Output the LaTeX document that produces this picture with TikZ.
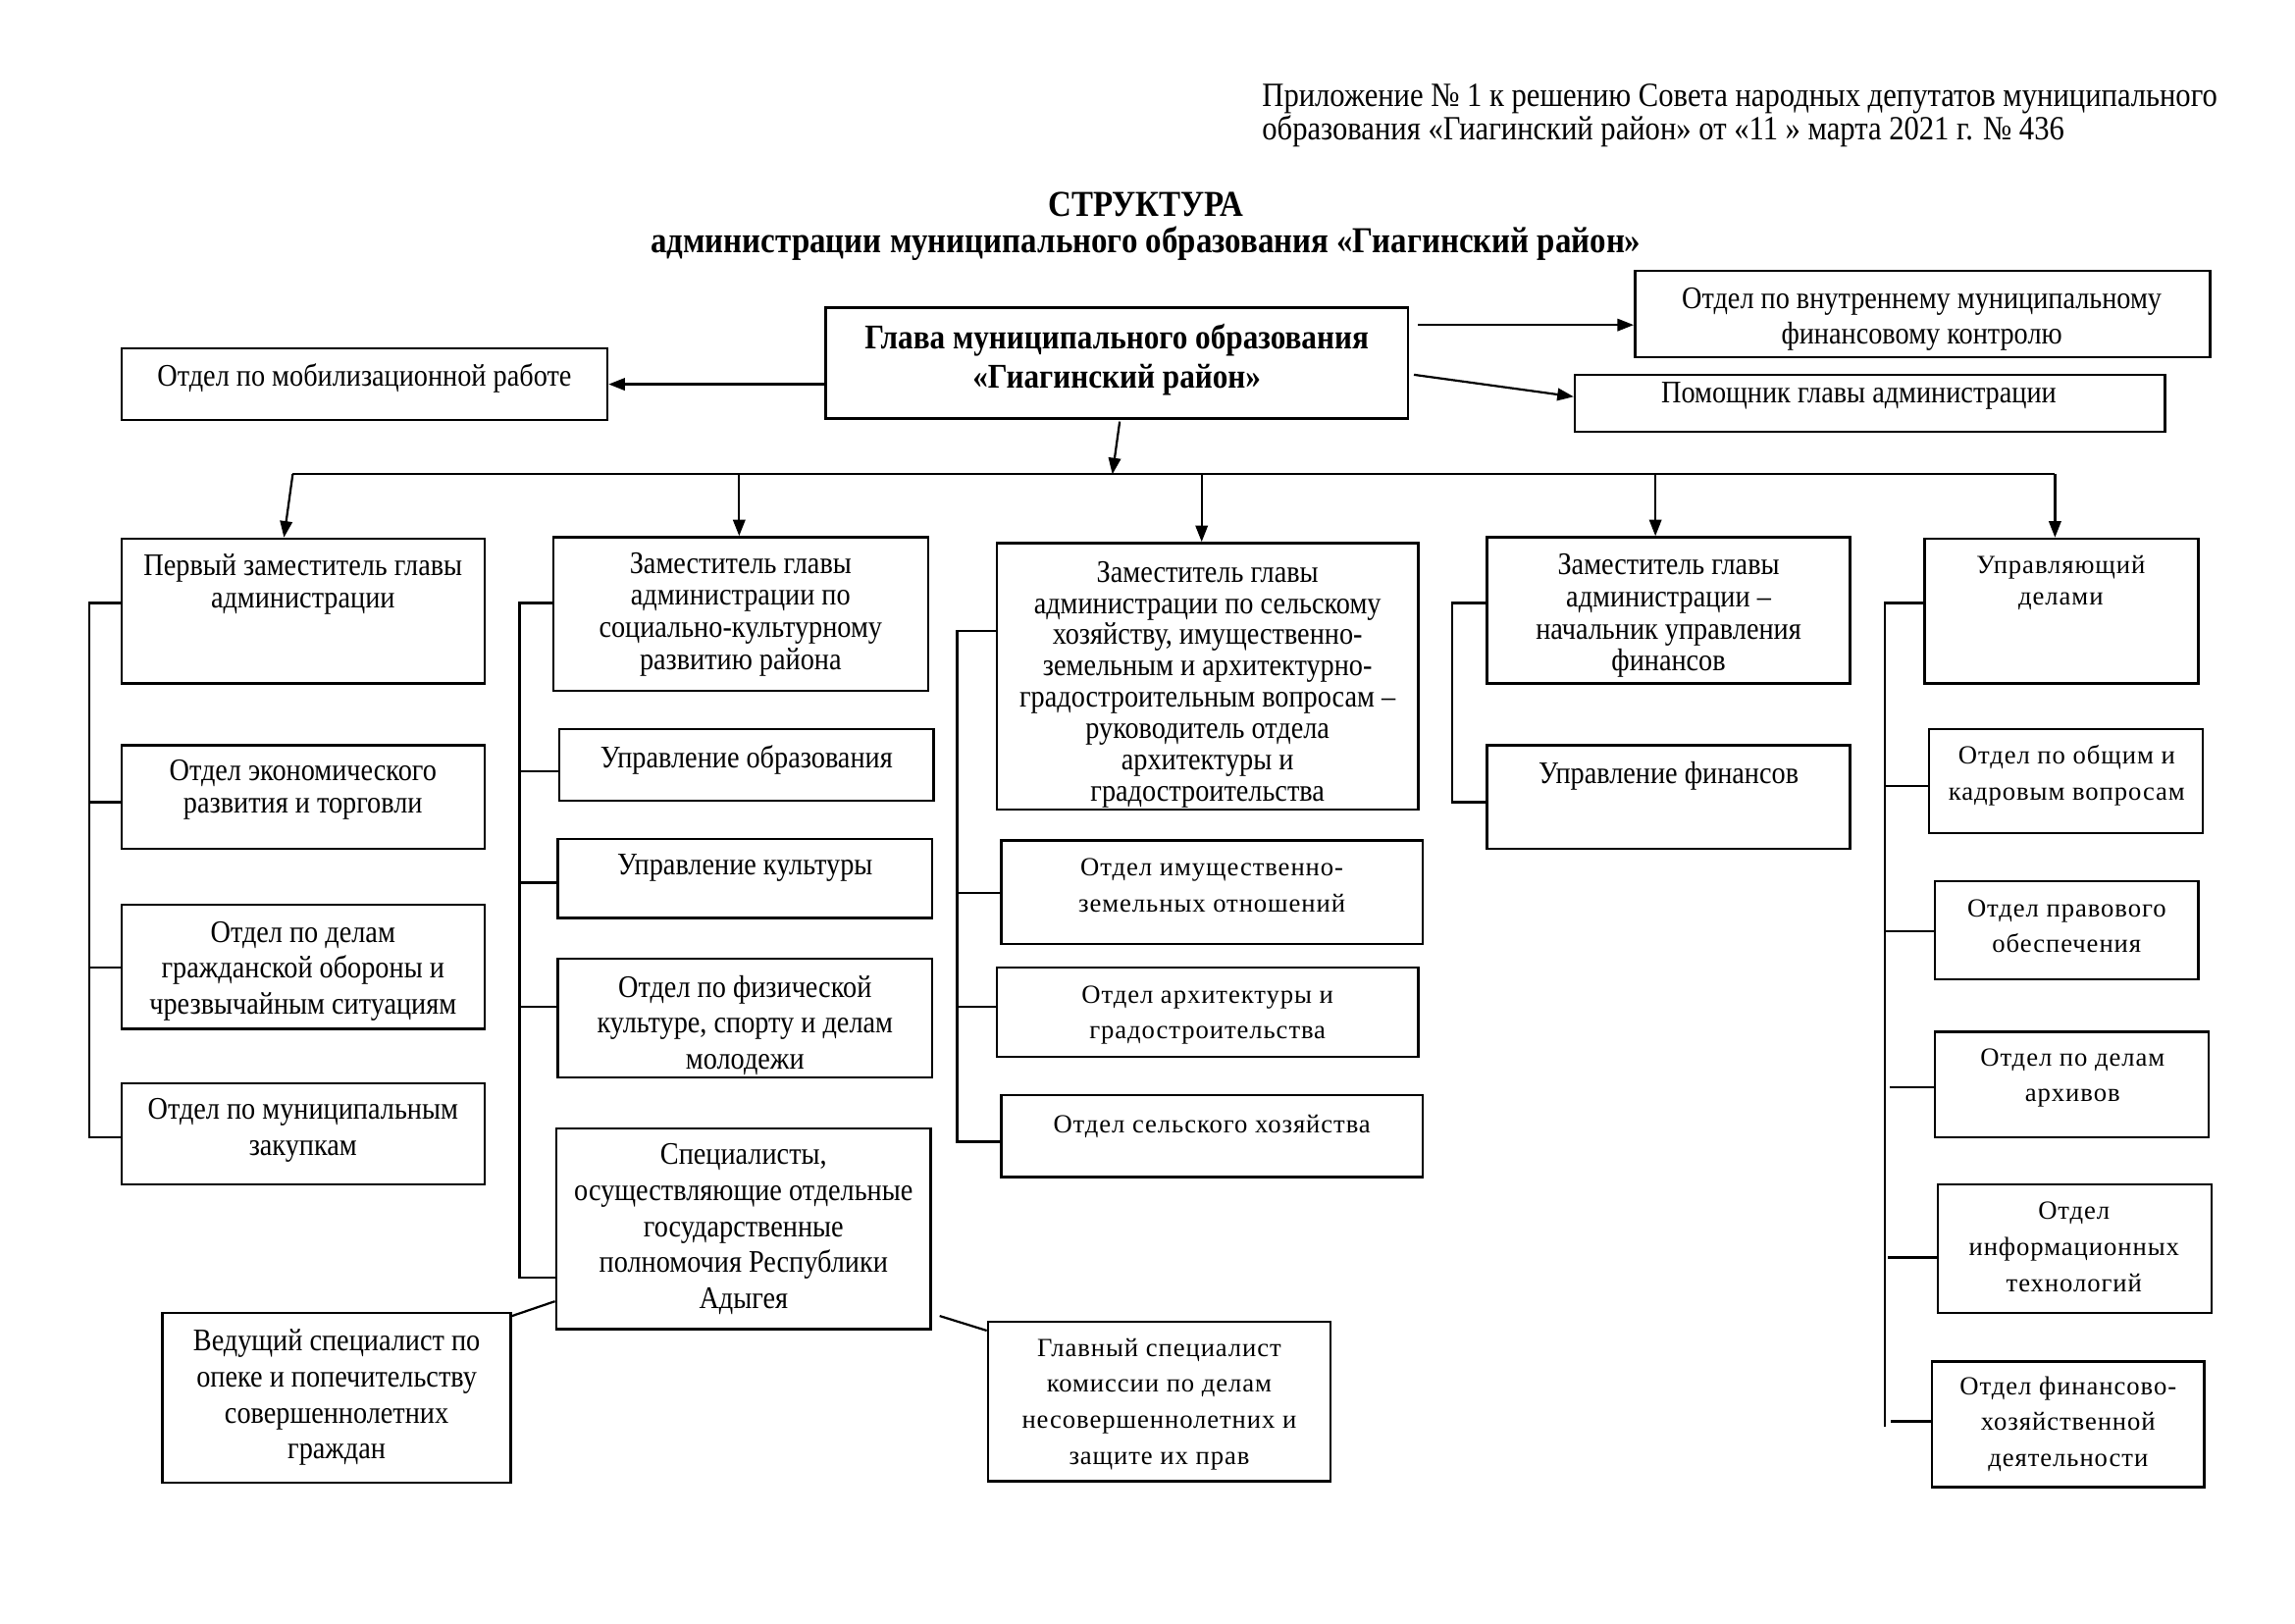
\documentclass[tikz,border=0pt]{standalone}
\usepackage{fontspec}
\setmainfont{Liberation Serif}
\newfontfamily\cond[FakeStretch=0.885,Ligatures=TeX]{Liberation Serif}
\newfontfamily\wide[LetterSpace=3.5,Ligatures=TeX]{Liberation Serif}
\usetikzlibrary{arrows.meta,fit}
\begin{document}
\begin{tikzpicture}[x=0.537pt,y=-0.537pt,
  box/.style={draw, line width=0.9pt, inner sep=0pt},
  ln/.style={line width=0.8pt},
  arr/.style={line width=0.8pt, -{Triangle[length=6pt,width=4.5pt]}},
  tx/.style={align=center, inner sep=0pt, anchor=north, font=\cond\fontsize{11.5}{11.8}\selectfont},
  txl/.style={align=center, inner sep=0pt, anchor=north, font=\cond\fontsize{11.5}{13.2}\selectfont},
  txw/.style={align=center, inner sep=0pt, anchor=north, font=\wide\fontsize{9.6}{13.2}\selectfont},
  txwt/.style={align=center, inner sep=0pt, anchor=north, font=\wide\fontsize{9.6}{11.8}\selectfont}]
\useasboundingbox (0,0) rectangle (1568,1109);
\fill[white] (0,0) rectangle (1568,1109);

% header
\node[align=left, inner sep=0pt, anchor=north west, font=\cond\fontsize{12.45}{12.4}\selectfont] (hdr) at (862,57)
 {Приложение № 1 к решению Совета народных депутатов муниципального\\образования «Гиагинский район» от «11 » марта 2021 г. № 436};
\node[align=center, inner sep=0pt, anchor=north, font=\cond\bfseries\fontsize{13.4}{13.4}\selectfont] (title) at (783,131)
 {СТРУКТУРА\\администрации муниципального образования «Гиагинский район»};

% top boxes
\node[box, fit={(564,210) (962,286)}] (glava) {};
\node[align=center, inner sep=0pt, anchor=north, font=\cond\bfseries\fontsize{12.7}{14.5}\selectfont] (glava-t) at (763,221)
 {Глава муниципального образования\\«Гиагинский район»};
\node[box, fit={(83,238) (415,287)}] (mob) {};
\node[tx] (mob-t) at (249,248) {Отдел по мобилизационной работе};
\node[box, fit={(1117,185) (1510,244)}] (kontrol) {};
\node[txl] (kontrol-t) at (1313,196) {Отдел по внутреннему муниципальному\\финансовому контролю};
\node[box, fit={(1076,256) (1479,295)}] (pom) {};
\node[tx] (pom-t) at (1270,261) {Помощник главы администрации};

\draw[arr] (glava.west |- mob.east) -- (mob.east);
\coordinate (k1) at (969,222);
\draw[arr] (k1) -- (kontrol.west |- k1);
\coordinate (p1) at (966,256);
\draw[arr] (p1) -- (pom.west |- 0,271);
\coordinate (bus) at (760,324);
\draw[arr] (765,288) -- (bus);

% deputies
\node[box, fit={(83,368) (331,467)}] (d1) {};
\node[tx] (d1-t) at (207,378) {Первый заместитель главы\\администрации};
\node[box, fit={(378,367) (634,472)}] (d2) {};
\node[tx] (d2-t) at (506,377) {Заместитель главы\\администрации по\\социально-культурному\\развитию района};
\node[box, fit={(681,371) (969,553)}] (d3) {};
\node[align=center, inner sep=0pt, anchor=north, font=\cond\fontsize{11.5}{11.5}\selectfont] (d3-t) at (825,383) {Заместитель главы\\администрации по сельскому\\хозяйству, имущественно-\\земельным и архитектурно-\\градостроительным вопросам –\\руководитель отдела\\архитектуры и\\градостроительства};
\node[box, fit={(1016,367) (1264,467)}] (d4) {};
\node[tx] (d4-t) at (1140,378) {Заместитель главы\\администрации –\\начальник управления\\финансов};
\node[box, fit={(1315,368) (1502,467)}] (d5) {};
\node[txwt] (d5-t) at (1408,379) {Управляющий\\делами};

% bus and arrows
\coordinate (b1) at (200,324);
\coordinate (b5) at (1404,324);
\draw[ln] (b1) -- (b5);
\draw[arr] (b1) -- (d1.north -| 194,0);
\draw[arr] (b1 -| 505,0) -- (d2.north -| 505,0);
\draw[arr] (b1 -| 821,0) -- (d3.north -| 821,0);
\draw[arr] (b1 -| 1131,0) -- (d4.north -| 1131,0);
\draw[arr] (b5) -- (d5.north -| b5);

% column 1
\node[box, fit={(83,509) (331,580)}] (econ) {};
\node[tx] (econ-t) at (207,519) {Отдел экономического\\развития и торговли};
\node[box, fit={(83,618) (331,703)}] (go) {};
\node[txl] (go-t) at (207,629) {Отдел по делам\\гражданской обороны и\\чрезвычайным ситуациям};
\node[box, fit={(83,740) (331,809)}] (zak) {};
\node[txl] (zak-t) at (207,750) {Отдел по муниципальным\\закупкам};
\draw[ln] (d1.west |- 0,412) -- (61,412) -- (61,777) -- (zak.west |- 0,777);
\draw[ln] (61,548) -- (econ.west |- 0,548);
\draw[ln] (61,661) -- (go.west |- 0,661);

% column 2
\node[box, fit={(382,498) (638,547)}] (obr) {};
\node[tx] (obr-t) at (510,509) {Управление образования};
\node[box, fit={(381,573) (637,627)}] (kul) {};
\node[tx] (kul-t) at (509,583) {Управление культуры};
\node[box, fit={(381,655) (637,736)}] (fiz) {};
\node[txl] (fiz-t) at (509,666) {Отдел по физической\\культуре, спорту и делам\\молодежи};
\node[box, fit={(380,771) (636,908)}] (spec) {};
\node[txl] (spec-t) at (508,781) {Специалисты,\\осуществляющие отдельные\\государственные\\полномочия Республики\\Адыгея};
\node[box, fit={(111,897) (349,1013)}] (ved) {};
\node[txl] (ved-t) at (230,908) {Ведущий специалист по\\опеке и попечительству\\совершеннолетних\\граждан};
\node[box, fit={(675,903) (909,1012)}] (glsp) {};
\node[txw] (glsp-t) at (792,914) {Главный специалист\\комиссии по делам\\несовершеннолетних и\\защите их прав};
\draw[ln] (d2.west |- 0,412) -- (355,412) -- (355,873) -- (spec.west |- 0,873);
\draw[ln] (355,527) -- (obr.west |- 0,527);
\draw[ln] (355,603) -- (kul.west |- 0,603);
\draw[ln] (355,688) -- (fiz.west |- 0,688);
\draw[ln] (spec.west |- 0,889) -- (ved.north east |- 0,899);
\draw[ln] (642,899) -- (glsp.west |- 0,909);

% column 3
\node[box, fit={(684,574) (972,645)}] (im) {};
\node[txw] (im-t) at (828,586) {Отдел имущественно-\\земельных отношений};
\node[box, fit={(681,661) (969,722)}] (ar) {};
\node[txw] (ar-t) at (825,673) {Отдел архитектуры и\\градостроительства};
\node[box, fit={(684,748) (972,804)}] (se) {};
\node[txw] (se-t) at (828,761) {Отдел сельского хозяйства};
\draw[ln] (d3.west |- 0,431) -- (654,431) -- (654,780) -- (se.west |- 0,780);
\draw[ln] (654,610) -- (im.west |- 0,610);
\draw[ln] (654,688) -- (ar.west |- 0,688);

% column 4
\node[box, fit={(1016,509) (1264,580)}] (uf) {};
\node[tx] (uf-t) at (1140,520) {Управление финансов};
\draw[ln] (d4.west |- 0,412) -- (992,412) -- (992,548) -- (uf.west |- 0,548);

% column 5
\node[box, fit={(1318,498) (1505,569)}] (ob) {};
\node[txw] (ob-t) at (1412,509) {Отдел по общим и\\кадровым вопросам};
\node[box, fit={(1322,602) (1502,669)}] (pr) {};
\node[txw] (pr-t) at (1412,614) {Отдел правового\\обеспечения};
\node[box, fit={(1322,705) (1509,777)}] (arh) {};
\node[txw] (arh-t) at (1416,716) {Отдел по делам\\архивов};
\node[box, fit={(1324,809) (1511,897)}] (it) {};
\node[txw] (it-t) at (1417,821) {Отдел\\информационных\\технологий};
\node[box, fit={(1320,930) (1506,1016)}] (fh) {};
\node[txw] (fh-t) at (1413,940) {Отдел финансово-\\хозяйственной\\деятельности};
\draw[ln] (d5.west |- 0,412) -- (1288,412) -- (1288,975);
\draw[ln] (1288,537) -- (ob.west |- 0,537);
\draw[ln] (1288,636) -- (pr.west |- 0,636);
\draw[ln] (1291,743) -- (arh.west |- 0,743);
\draw[ln] (1290,859) -- (it.west |- 0,859);
\draw[ln] (1292,971) -- (fh.west |- 0,971);
\end{tikzpicture}
\end{document}
